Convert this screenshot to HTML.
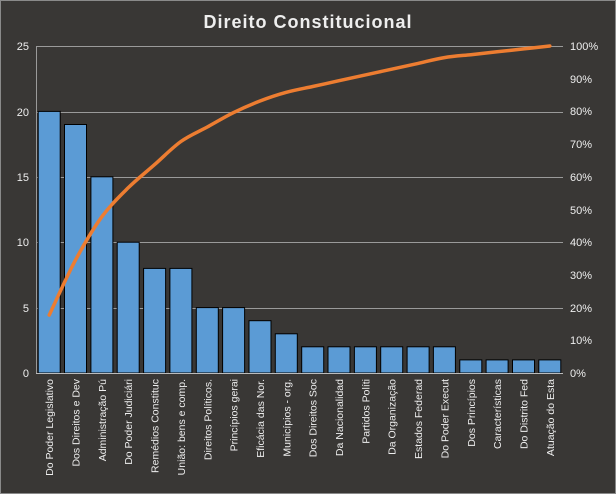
<!DOCTYPE html>
<html><head><style>body{margin:0;background:#393735;}svg{display:block}</style></head><body>
<svg width="616" height="494" xmlns="http://www.w3.org/2000/svg" font-family="Liberation Sans, sans-serif">
<rect x="0.5" y="0.5" width="615" height="493" fill="#393735" stroke="#8a8a8a"/>
<text x="308" y="28" text-anchor="middle" fill="#eeeeee" font-size="18" font-weight="bold" letter-spacing="1">Direito  Constitucional</text>
<g stroke="#9a9a9a" stroke-width="1">
<line x1="36" y1="46.5" x2="563" y2="46.5"/><line x1="36" y1="112.5" x2="563" y2="112.5"/>
<line x1="36" y1="177.5" x2="563" y2="177.5"/><line x1="36" y1="242.5" x2="563" y2="242.5"/>
<line x1="36" y1="308.5" x2="563" y2="308.5"/>
<line x1="36.5" y1="46" x2="36.5" y2="373"/>
</g>
<g id="bars" fill="#5b9bd5" stroke="#000" stroke-width="1"></g>
<line x1="36" y1="373.5" x2="563" y2="373.5" stroke="#bbbbbb"/>
<g fill="#eeeeee" font-size="11" text-anchor="end">
<text x="29" y="50">25</text><text x="29" y="116">20</text><text x="29" y="181">15</text><text x="29" y="246">10</text><text x="29" y="312">5</text><text x="29" y="377">0</text>
</g>
<g fill="#eeeeee" font-size="11" text-anchor="start">
<text x="570" y="50">100%</text><text x="570" y="83">90%</text><text x="570" y="115">80%</text><text x="570" y="148">70%</text><text x="570" y="181">60%</text><text x="570" y="214">50%</text><text x="570" y="246">40%</text><text x="570" y="279">30%</text><text x="570" y="312">20%</text><text x="570" y="344">10%</text><text x="570" y="377">0%</text>
</g>
<g id="labels" fill="#eeeeee" font-size="10.5"></g>
<path id="line" fill="none" stroke="#ed7d31" stroke-width="3.5" stroke-linejoin="round" stroke-linecap="round"/>
</svg>
<script>
var v=[20,19,15,10,8,8,5,5,4,3,2,2,2,2,2,2,1,1,1,1];
var n=["Do Poder Legislativo","Dos Direitos e Dev","Administração Pú","Do Poder Judiciári","Remédios Constituc","União: bens e comp.","Direitos Políticos.","Princípios gerai","Eficácia das Nor.","Municípios - org.","Dos Direitos Soc","Da Nacionalidad","Partidos Políti","Da Organização","Estados Federad","Do Poder Execut","Dos Princípios","Características","Do Distrito Fed","Atuação do Esta"];
var ns="http://www.w3.org/2000/svg",b=document.getElementById("bars"),l=document.getElementById("labels");
var tot=113,c=0,P=[],w=527/20;
for(var i=0;i<20;i++){var cx=36+w*(i+0.5);var h=v[i]*327/25;
var r=document.createElementNS(ns,"rect");r.setAttribute("x",(cx-11).toFixed(1));r.setAttribute("y",(373-h).toFixed(1));r.setAttribute("width",22);r.setAttribute("height",h.toFixed(1));b.appendChild(r);
var t=document.createElementNS(ns,"text");t.setAttribute("transform","translate("+(cx+4).toFixed(1)+",379) rotate(-90)");t.setAttribute("text-anchor","end");t.textContent=n[i];l.appendChild(t);
c+=v[i];P.push([cx,373-c/tot*327]);}
var d="M"+P[0][0].toFixed(1)+","+P[0][1].toFixed(1);
for(var i=0;i<P.length-1;i++){var p0=P[Math.max(i-1,0)],p1=P[i],p2=P[i+1],p3=P[Math.min(i+2,P.length-1)];
var c1x=p1[0]+(p2[0]-p0[0])/6,c1y=p1[1]+(p2[1]-p0[1])/6,c2x=p2[0]-(p3[0]-p1[0])/6,c2y=p2[1]-(p3[1]-p1[1])/6;
d+=" C"+c1x.toFixed(1)+","+c1y.toFixed(1)+" "+c2x.toFixed(1)+","+c2y.toFixed(1)+" "+p2[0].toFixed(1)+","+p2[1].toFixed(1);}
document.getElementById("line").setAttribute("d",d);
</script>
</body></html>
